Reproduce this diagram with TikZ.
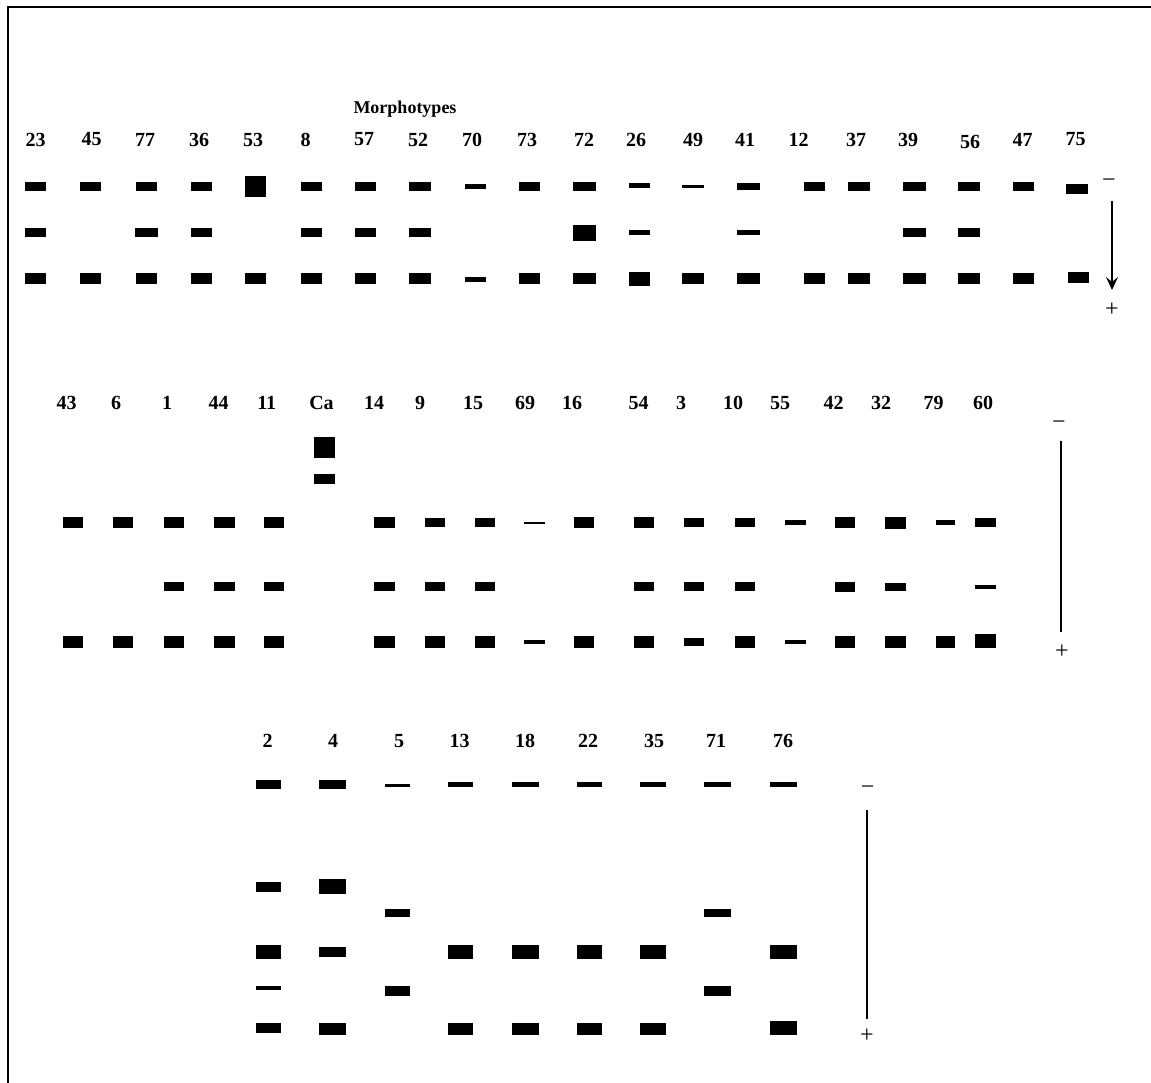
\documentclass[tikz,border=0pt]{standalone}
\usepackage{fontspec}
\setmainfont{Liberation Serif}
\usetikzlibrary{arrows.meta}
\begin{document}
\begin{tikzpicture}[x=1pt, y=-1pt, >={Stealth[length=13pt,width=12pt,inset=5pt]},
    lab/.style={font=\fontsize{20}{24}\selectfont\bfseries, inner sep=0pt},
    sign/.style={font=\fontsize{24}{28}\selectfont, inner sep=0pt},
    scaleline/.style={line width=1.6pt}]
    \useasboundingbox (0,0) rectangle (1151,1083);
    \draw[line width=2.5pt] (8,1083) -- (8,7) -- (1151,7);
    \begin{scope}
        \node[font=\fontsize{18}{22}\selectfont\bfseries, inner sep=0pt] (title) at (405,109) {Morphotypes};
        \foreach \x/\t in {35.5/23, 91.7/45, 145/77, 199/36, 253/53, 305.6/8, 364/57, 418/52, 472/70, 527/73,
            584/72, 636/26, 693/49, 745/41, 798.5/12, 856/37, 908/39, 1022.6/47, 1075.6/75}
            \node[lab] (t\t) at (\x,139.5) {\t};
        \node[lab] (t56) at (970,142) {56};
        \foreach \x/\y/\w/\h in {35.5/186.5/21/9, 90.5/186.5/21/9, 146/186.5/21/9, 201/186.5/21/9, 255/187/21/21,
            311/186.5/21/9, 365.6/186.5/21/9, 420/186.5/22/9, 475.6/186.5/21/4.5, 529.6/186.5/21/9,
            584/186.5/23/9, 639/186/21/5, 693/186.5/22/3.5, 748/186.5/23/6.5, 814.6/186.5/21/9,
            859/186.5/22/9, 914/186.5/23/9, 969/186.5/22/9, 1023/186.5/21/9, 1077/188.7/22/10,
            35.5/232.7/21/9, 146/232.7/23/9, 201/232.7/21/9, 311/232.7/21/9, 365.6/232.7/21/9,
            420/232.7/22/9, 584/233/23/16, 639/232.7/21/5, 748/232.7/23/5, 914/232.7/23/9, 969/232.7/22/9,
            35.5/278.5/21/11, 90.5/278.5/21/11, 146/278.5/21/11, 201/278.5/21/11, 255/278.5/21/11,
            311/278.5/21/11, 365.6/278.5/21/11, 420/278.5/22/11, 475.6/279.5/21/4.3, 529.6/278.5/21/11,
            584/278.5/23/11, 639/279.5/21/14, 693/278.5/22/11, 748/278.5/23/11, 814.6/278.5/21/11,
            859/278.5/22/11, 914/278.5/23/11, 969/278.5/22/11, 1023/278.5/21/11, 1078/277.5/21/10.5}
            \fill (\x-\w/2,\y-\h/2) rectangle ++(\w,\h);
        \node[sign] (neg1) at (1109,183) {−};
        \node[sign] (pos1) at (1112,310) {+};
        \coordinate (s1) at (1112,201);
        \coordinate (e1) at (1112,290);
        \draw[scaleline, ->] (s1) -- (e1);
    \end{scope}
    \begin{scope}
        \foreach \x/\t in {66.7/43, 116/6, 167/1, 218.5/44, 266.7/11, 321.5/Ca, 374/14, 420/9, 473/15, 525/69,
            572/16, 638.5/54, 681/3, 733/10, 780/55, 833.7/42, 881/32, 933.7/79, 983/60}
            \node[lab] (m\t) at (\x,402.7) {\t};
        \foreach \x/\y/\w/\h in {324.6/447.5/21/21.7, 324.6/479/21/10,
            73.3/522.5/20/11.7, 122.6/522.5/20/11.7, 174/522.5/20/11.7, 224/522.5/21/11.7, 274.4/522.5/20/11.7,
            384.6/522.5/21/11.7, 434.8/522.5/20/8.3, 484.6/522.5/20/8.3, 534.6/522.5/21/2, 584.4/522.5/20/11.7,
            644.4/522.5/20/11.7, 694/522.5/20/8.3, 744.6/522.5/20/8.3, 795/522.5/21/5, 845/522.5/20/11.7,
            895.4/522.5/21/12, 945.6/522.5/19/5.3, 985.4/522.5/21/8.3,
            174/586.3/20/9.3, 224/586.3/21/9.3, 274.4/586.3/20/9.3, 384.6/586.3/21/9.3, 434.8/586.3/20/9.3,
            484.6/586.3/20/9.3, 644.4/586.3/20/9.3, 694/586.3/20/9.3, 744.6/586.3/20/9.3, 845/587/20/10.3,
            895.4/587/21/7.3, 985.4/587/21/3.3,
            73.3/641.7/20/12, 122.6/641.7/20/12, 174/641.7/20/12, 224/641.7/21/12, 274.4/641.7/20/12,
            384.6/641.7/21/12, 434.8/641.7/20/12, 484.6/641.7/20/12, 534.6/641.7/21/4.3, 584.4/641.7/20/12,
            644.4/641.7/20/12, 694/641.7/20/7.7, 744.6/641.7/20/12, 795/641.7/21/4.3, 845/641.7/20/12,
            895.4/641.7/21/12, 945.6/641.7/19/12, 985.4/641/21/13.3}
            \fill (\x-\w/2,\y-\h/2) rectangle ++(\w,\h);
        \node[sign] (neg2) at (1059,425.5) {−};
        \node[sign] (pos2) at (1062,651.7) {+};
        \coordinate (s2) at (1061,440.7);
        \coordinate (e2) at (1061,632);
        \draw[scaleline] (s2) -- (e2);
    \end{scope}
    \begin{scope}
        \foreach \x/\t in {267.7/2, 333/4, 399/5, 459.7/13, 525/18, 588/22, 654/35, 716/71, 783/76}
            \node[lab] (b\t) at (\x,740.7) {\t};
        \foreach \x/\y/\w/\h in {268/784.5/25/9.7, 332.5/784.5/27.7/9.7, 397/785.5/25/2.3, 460.7/784.7/25/5,
            525/784.7/27/5, 589.5/784.7/25/5, 652.8/784.7/25.7/5, 717.7/784.7/27/5, 783/784.7/27/5,
            268/887/25/9.7, 332.5/886.5/27.7/14.3, 397/913/25/8.3, 717.7/913/27/8.3,
            268/952.3/25/14, 332.5/952.3/27.7/10, 460.7/952.3/25/14, 525/952.3/27/14, 589.5/952.3/25/14,
            652.8/952.3/25.7/14, 783/952.3/27/14,
            268/988.3/25/4, 397/991.3/25/10, 717.7/991/27/10,
            268/1028/25/10, 332.5/1029/27.7/12, 460.7/1029/25/12, 525/1029/27/12, 589.5/1029/25/12,
            652.8/1029/25.7/12, 783/1028/27/13.7}
            \fill (\x-\w/2,\y-\h/2) rectangle ++(\w,\h);
        \node[sign] (neg3) at (867.7,790.5) {−};
        \node[sign] (pos3) at (867,1035.7) {+};
        \coordinate (s3) at (867,810);
        \coordinate (e3) at (867,1019);
        \draw[scaleline] (s3) -- (e3);
    \end{scope}
\end{tikzpicture}
\end{document}
